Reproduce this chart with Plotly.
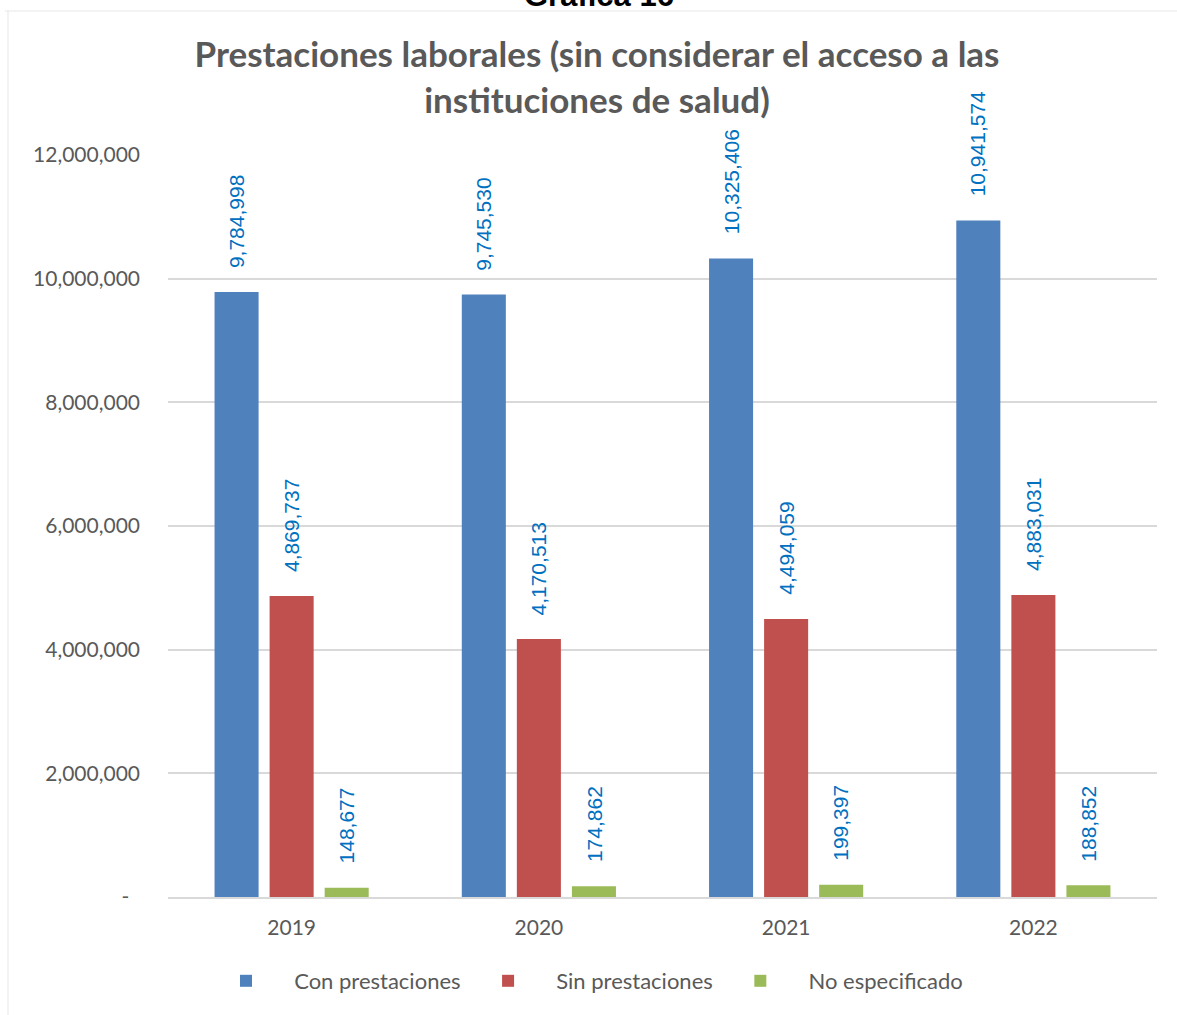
import plotly.graph_objects as go

# ------------------------------------------
# DATOS
# ------------------------------------------
YEARS = ["2019", "2020", "2021", "2022"]
CON_PRESTACIONES = [9784998, 9745530, 10325406, 10941574]
SIN_PRESTACIONES = [4869737, 4170513, 4494059, 4883031]
NO_ESPECIFICADO = [148677, 174862, 199397, 188852]
SERIES_NAMES = ["Con prestaciones", "Sin prestaciones", "No especificado"]

Y_TICKS = [0, 2000000, 4000000, 6000000, 8000000, 10000000, 12000000]
Y_TICKTEXT = ["-\u00a0\u00a0", "2,000,000", "4,000,000", "6,000,000",
              "8,000,000", "10,000,000", "12,000,000"]

TITLE = "Prestaciones laborales (sin considerar el acceso a las<br>instituciones de salud)"

# Estilo
COLORS = ["#4F81BD", "#C0504D", "#9BBB59"]
LABEL_COLOR = "#0070C0"
TEXT_GRAY = "#595959"
GRID = "#D9D9D9"
FONT = "Lato"
LABEL_FONT = "Liberation Sans"

W, H = 1177, 1015
M_L, M_R, M_T, M_B = 168, 20, 155, 118
PLOT_H = H - M_T - M_B
PLOT_W = W - M_L - M_R
NBSP = "\u00a0"


def px_to_paper_y(py):
    return (H - M_B - py) / PLOT_H


def px_to_paper_x(px):
    return (px - M_L) / PLOT_W


fig = go.Figure()

all_series = [CON_PRESTACIONES, SIN_PRESTACIONES, NO_ESPECIFICADO]
for name, vals, color in zip(SERIES_NAMES, all_series, COLORS):
    fig.add_trace(go.Bar(
        x=YEARS, y=vals, name=NBSP * 5 + name + NBSP * 4,
        marker=dict(color=color, line=dict(width=0)),
    ))

# Etiquetas de datos (verticales, encima de cada barra)
# en eje de categorías, x = índice de la categoría
slot = 55
for i, vals in enumerate(all_series):
    for j, v in enumerate(vals):
        fig.add_annotation(
            x=j, y=v, xref="x", yref="y",
            text=f"{v:,}", textangle=-90, showarrow=False,
            xshift=(i - 1) * slot, yshift=22,
            xanchor="center", yanchor="bottom",
            font=dict(family=LABEL_FONT, size=21, color=LABEL_COLOR),
        )

# Marco del gráfico
fig.add_shape(type="line", xref="paper", yref="paper",
              x0=px_to_paper_x(8), x1=px_to_paper_x(8),
              y0=px_to_paper_y(11), y1=px_to_paper_y(1015),
              line=dict(color=GRID, width=2))
fig.add_shape(type="line", xref="paper", yref="paper",
              x0=px_to_paper_x(5), x1=px_to_paper_x(1177),
              y0=px_to_paper_y(11), y1=px_to_paper_y(11),
              line=dict(color=GRID, width=2))

# "Gráfica 16" (recortado arriba, como en el original)
fig.add_annotation(
    text="<b>Gráfica 16</b>", xref="paper", yref="paper",
    x=px_to_paper_x(599), y=px_to_paper_y(8), showarrow=False,
    xanchor="center", yanchor="bottom", yshift=-7,
    font=dict(family="Liberation Sans", size=31, color="#000000"),
)

fig.update_layout(
    width=W, height=H,
    template="simple_white",
    paper_bgcolor="white", plot_bgcolor="white",
    margin=dict(l=M_L, r=M_R, t=M_T, b=M_B),
    barmode="group", bargap=0.332, bargroupgap=0.2,
    font=dict(family=FONT, color=TEXT_GRAY, size=21),
    title=dict(text=TITLE, x=597 / W, xanchor="center", xref="container",
               y=1 - 67 / H, yanchor="middle",
               font=dict(family=FONT, size=35, color=TEXT_GRAY, weight="bold")),
    showlegend=True,
    legend=dict(orientation="h", x=px_to_paper_x(226), xanchor="left",
                y=px_to_paper_y(981), yanchor="middle",
                font=dict(family=FONT, size=22, color=TEXT_GRAY),
                traceorder="normal", itemclick=False),
    xaxis=dict(type="category", showline=True, linecolor=GRID, linewidth=2,
               ticks="", showgrid=False,
               tickfont=dict(size=21, color=TEXT_GRAY),
               ticklabelstandoff=11),
    yaxis=dict(range=[0, 12000000], tickvals=Y_TICKS, ticktext=Y_TICKTEXT,
               showline=False, ticks="", showgrid=True, gridcolor=GRID,
               gridwidth=2, zeroline=False,
               tickfont=dict(size=21, color=TEXT_GRAY),
               ticklabelstandoff=27),
)

# la página se fotografía desde la esquina: sin margen del body
fig.write_html("out.html", config={"displayModeBar": False},
               post_script="document.body.style.margin='0';")
